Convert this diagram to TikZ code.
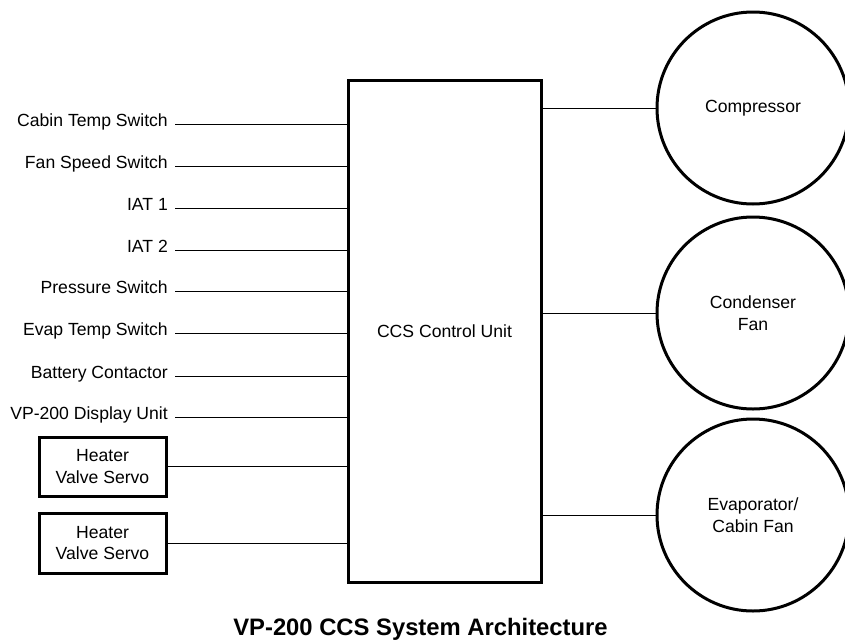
\documentclass[tikz,border=0pt]{standalone}
\usepackage{fontspec}
\setmainfont{Liberation Sans}
\begin{document}
\begin{tikzpicture}[x=1pt,y=-1pt,
  txt/.style={font=\fontsize{17.6}{21.5}\selectfont},
  lbl/.style={txt,anchor=mid east,inner sep=0pt},
  wire/.style={line width=1pt},
  unitbox/.style={draw,line width=3pt,inner sep=0pt,txt,align=center},
  devcircle/.style={draw,circle,line width=3pt,minimum size=192pt,inner sep=0pt,txt,align=center}]
\useasboundingbox (0,0) rectangle (845,640);
\clip (0,0) rectangle (845,640);
\node[unitbox,minimum width=193pt,minimum height=502pt] (ccu) at (444.5,331) {CCS Control Unit};

\node[lbl] (l1) at (168,124) {Cabin Temp Switch};
\node[lbl] (l2) at (168,166) {Fan Speed Switch};
\node[lbl] (l3) at (168,208) {IAT 1};
\node[lbl] (l4) at (168,250) {IAT 2};
\node[lbl] (l5) at (168,291) {Pressure Switch};
\node[lbl] (l6) at (168,333) {Evap Temp Switch};
\node[lbl] (l7) at (168,376) {Battery Contactor};
\node[lbl] (l8) at (168,417) {VP-200 Display Unit};
\foreach \i in {1,...,8}{
  \draw[wire] ([xshift=7pt]l\i.mid east) -- (l\i.mid east -| ccu.west);
}

\node[unitbox,minimum width=127pt,minimum height=59pt] (h1) at (102.5,466.5) {Heater\\Valve Servo};
\node[unitbox,minimum width=127pt,minimum height=60pt] (h2) at (102.5,543) {Heater\\Valve Servo};
\draw[wire] (h1.east) -- (h1.east -| ccu.west);
\draw[wire] (h2.east) -- (h2.east -| ccu.west);

\node[devcircle] (c1) at (753,108) {Compressor};
\node[devcircle] (c2) at (753,313) {Condenser\\Fan};
\node[devcircle] (c3) at (753,515) {Evaporator/\\Cabin Fan};
\draw[wire] (ccu.east |- c1.west) -- (c1.west);
\draw[wire] (ccu.east |- c2.west) -- (c2.west);
\draw[wire] (ccu.east |- c3.west) -- (c3.west);

\node[font=\fontsize{23.8}{28}\selectfont\bfseries,inner sep=0pt,anchor=base] (title) at (420.5,635.5) {VP-200 CCS System Architecture};
\end{tikzpicture}
\end{document}
